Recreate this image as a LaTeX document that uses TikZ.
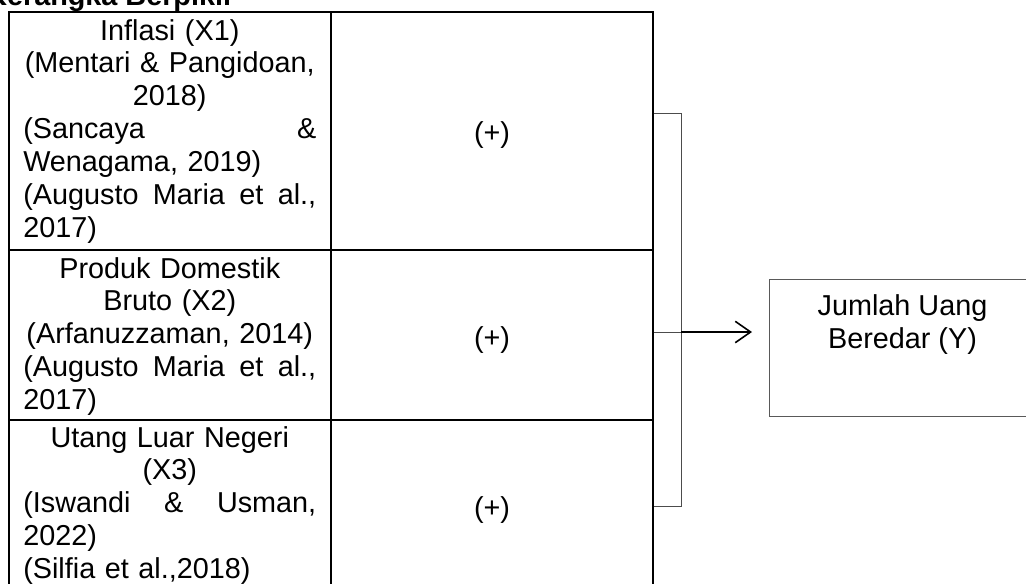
\documentclass[tikz,border=0pt]{standalone}
\usepackage{fontspec}
\setmainfont{Liberation Sans}
\usetikzlibrary{arrows.meta}

% one line of a cell: centred, spread to full width, or flush left
\newcommand\lineC[1]{\makebox[\linewidth][c]{#1}}
\newcommand\lineS[1]{{\spaceskip=0pt\xspaceskip=0pt\makebox[\linewidth][s]{#1}}}
\newcommand\lineL[1]{\makebox[\linewidth][l]{#1}}

\tikzset{
  body/.style={font=\fontsize{21.6pt}{24.7pt}\selectfont, inner sep=0pt},
  celltext/.style={body, anchor=base west, text width=219.75pt, align=left},
  cell/.style={draw=black, line width=1pt, rectangle, inner sep=0pt},
  bracket/.style={draw=black!70, line width=0.7pt},
  result/.style={draw=black!65, line width=0.7pt, rectangle, inner sep=0pt},
  flow/.style={draw=black, line width=1.2pt, -{Straight Barb[length=11.5pt, width=16pt, line width=1.2pt]}},
}

\begin{document}
\begin{tikzpicture}[x=0.75pt, y=-0.75pt]
  \useasboundingbox (0,0) rectangle (1026,583);

  % heading
  \node[body, anchor=base west, font=\fontsize{21.6pt}{24.7pt}\selectfont\bfseries] (title) at (-14,5) {Kerangka Berpikir};

  % table: variable column and sign column
  \node[cell, minimum width=322*0.75pt, minimum height=238*0.75pt] (x1) at (170,131) {};
  \node[cell, minimum width=322*0.75pt, minimum height=170*0.75pt] (x2) at (170,335) {};
  \node[cell, minimum width=322*0.75pt, minimum height=200*0.75pt] (x3) at (170,520) {};
  \node[cell, minimum width=322*0.75pt, minimum height=238*0.75pt] (p1) at (492,131) {};
  \node[cell, minimum width=322*0.75pt, minimum height=170*0.75pt] (p2) at (492,335) {};
  \node[cell, minimum width=322*0.75pt, minimum height=200*0.75pt] (p3) at (492,520) {};

  \node[celltext] (t1) at (23,40) {%
    \lineC{Inflasi (X1)}\\
    \lineC{(Mentari \& Pangidoan,}\\
    \lineC{2018)}\\
    \lineS{(Sancaya \&}\\
    \lineL{Wenagama, 2019)}\\
    \lineS{(Augusto Maria et al.,}\\
    \lineL{2017)}};
  \node[celltext] (t2) at (23,278) {%
    \lineC{Produk Domestik}\\
    \lineC{Bruto (X2)}\\
    \lineC{(Arfanuzzaman, 2014)}\\
    \lineS{(Augusto Maria et al.,}\\
    \lineL{2017)}};
  \node[celltext] (t3) at (23,447) {%
    \lineC{Utang Luar Negeri}\\
    \lineC{(X3)}\\
    \lineS{(Iswandi \& Usman,}\\
    \lineL{2022)}\\
    \lineL{(Silfia et al.,2018)}};

  \node[body, anchor=base] (s1) at (492,142) {(+)};
  \node[body, anchor=base] (s2) at (492,347) {(+)};
  \node[body, anchor=base] (s3) at (492,517) {(+)};

  % dependent variable (box runs on past the right edge)
  \node[result, minimum width=362*0.75pt, minimum height=137*0.75pt] (yb) at (950,347.5) {};
  \node[body, anchor=base] (y1) at (902.5,315) {Jumlah Uang};
  \node[body, anchor=base] (y2) at (902.5,348) {Beredar (Y)};

  % bracket joining the three signs
  \coordinate (btop) at (681,113);
  \coordinate (bmid) at (681,332);
  \coordinate (bbot) at (681,506);
  \coordinate (tip) at (752,332);
  \draw[bracket] (p1.east |- btop) -- (btop) -- (bbot) -- (p3.east |- bbot);
  \draw[bracket] (p2.east |- bmid) -- (bmid);
  \draw[flow] (bmid) -- (tip);
\end{tikzpicture}
\end{document}
